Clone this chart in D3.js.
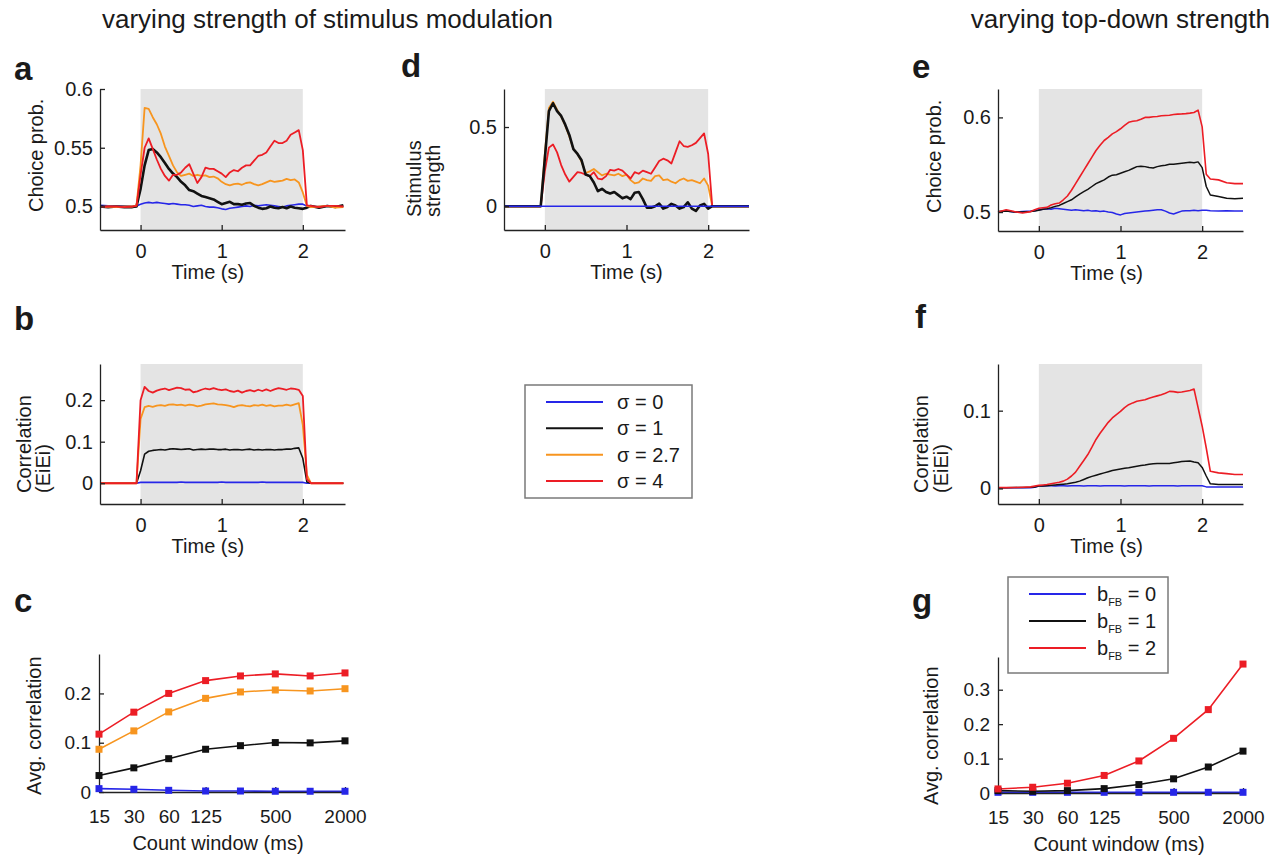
<!DOCTYPE html>
<html>
<head>
<meta charset="utf-8">
<script src="https://cdn.jsdelivr.net/npm/d3@7"></script>
<style>
  body { margin: 0; background: #fff; }
  svg { display: block; }
  text { font-family: "Liberation Sans", Arial, Helvetica, sans-serif; fill: #1a1a1a; }
</style>
</head>
<body>
<svg id="fig" width="1279" height="859"></svg>
<script>
// ---------- data ----------
// sample times (s) shared by all time-course panels
const time = [-0.5,-0.4,-0.3,-0.2,-0.1,-0.05,
  0,0.05,0.1,0.15,0.2,0.25,0.3,0.35,0.4,0.45,0.5,0.55,0.6,0.65,0.7,0.75,0.8,0.85,0.9,0.95,
  1,1.05,1.1,1.15,1.2,1.25,1.3,1.35,1.4,1.45,1.5,1.55,1.6,1.65,1.7,1.75,1.8,1.85,1.9,1.95,2,
  2.05,2.1,2.2,2.3,2.4,2.5];
const timeTicks = [0, 1, 2];

// (a) choice probability, varying stimulus modulation
const aSigma0 = [.501,.5005,.500,.5005,.500,.5005,
  .502,.503,.5035,.503,.5035,.503,.5025,.502,.5025,.502,.5015,.5015,.501,.5,.5005,.501,.5,.4995,.4995,.499,
  .498,.4975,.4985,.499,.4995,.5,.5005,.5,.501,.5005,.501,.5015,.501,.5005,.5,.4995,.5005,.501,.5015,.502,.502,
  .5005,.5,.5,.5005,.5,.5];
const aSigma1 = [.500,.4995,.5,.4995,.4995,.500,
  .515,.535,.548,.549,.546,.542,.537,.532,.528,.525,.521,.518,.514,.513,.511,.509,.508,.507,.506,.504,
  .502,.503,.504,.502,.502,.5015,.5025,.503,.5005,.499,.498,.4985,.500,.499,.4985,.4995,.4985,.500,.499,.4985,.498,
  .499,.5005,.499,.5005,.4995,.501];
const aSigma27 = [.4995,.5,.4995,.5,.5,.501,
  .535,.584,.583,.576,.570,.562,.551,.543,.535,.529,.526,.527,.528,.526,.527,.526,.5265,.525,.5255,.524,
  .521,.519,.518,.519,.5195,.5185,.52,.5205,.519,.518,.519,.5205,.522,.521,.5215,.522,.5235,.5225,.523,.5205,.512,
  .5005,.4995,.5,.5005,.499,.4995];
const aSigma4 = [.4995,.5,.5,.4995,.5,.5005,
  .527,.550,.558,.549,.540,.532,.526,.522,.527,.527,.529,.533,.536,.528,.520,.525,.533,.532,.532,.530,
  .528,.525,.529,.531,.530,.533,.535,.535,.539,.543,.544,.546,.551,.556,.554,.554,.556,.561,.563,.565,.548,
  .501,.5005,.4995,.5005,.5005,.5];

// (b) EiEi correlation, varying stimulus modulation
const bSigma0 = [0,0,0,0,0,0,
  .002,.002,.002,.002,.002,.002,.002,.002,.002,.002,.003,.002,.002,.002,.002,.002,.002,.002,.002,.002,
  .003,.002,.002,.002,.002,.002,.002,.002,.002,.002,.003,.002,.002,.002,.002,.002,.002,.002,.002,.002,.002,
  0,0,0,0,0,0];
const bSigma1 = [0,0,0,0,0,0,
  .03,.07,.077,.079,.08,.081,.08,.082,.083,.082,.081,.082,.083,.08,.081,.082,.081,.082,.082,.081,
  .081,.082,.08,.081,.081,.08,.081,.082,.08,.081,.08,.081,.081,.08,.081,.081,.082,.082,.084,.085,.06,
  .003,0,0,0,0,0];
const bSigma27 = [0,0,0,0,0,0,
  .155,.183,.186,.184,.187,.188,.186,.189,.19,.188,.189,.187,.189,.188,.185,.187,.19,.191,.192,.19,
  .189,.188,.186,.183,.187,.188,.186,.185,.188,.187,.189,.186,.188,.185,.187,.187,.189,.187,.19,.193,.14,
  .02,0,0,0,0,0];
const bSigma4 = [0,0,0,0,0,0,
  .20,.232,.222,.218,.223,.226,.228,.224,.227,.23,.229,.225,.226,.219,.221,.225,.228,.226,.229,.226,
  .224,.226,.222,.22,.223,.218,.222,.224,.221,.225,.222,.226,.222,.226,.229,.227,.225,.228,.227,.225,.21,
  .01,0,0,0,0,0];

// (d) stimulus strength
const dSigma0 = [0,0,0,0,0,0,
  0,0,0,0,0,0,0,0,0,0,0,0,0,0,0,0,0,0,0,0,
  0,0,0,0,0,0,0,0,0,0,0,0,0,0,0,0,0,0,0,0,0,
  0,0,0,0,0,0];
const dSigma1 = [0,0,0,0,0,0,
  .30,.60,.65,.60,.57,.515,.45,.36,.33,.29,.20,.19,.15,.095,.11,.09,.08,.09,.07,.05,
  .06,.045,.085,.09,.045,-.01,-.01,0,.017,-.015,-.005,.015,.005,-.015,-.005,.025,-.015,-.03,.005,.015,-.015,
  0,0,0,0,0,0];
const dSigma27 = [0,0,0,0,0,0,
  .33,.62,.66,.61,.565,.51,.44,.36,.33,.28,.21,.22,.235,.215,.195,.205,.20,.195,.205,.19,
  .20,.165,.145,.15,.175,.165,.16,.19,.195,.165,.17,.155,.145,.165,.175,.16,.165,.155,.145,.175,.13,
  0,0,0,0,0,0];
const dSigma4 = [0,0,0,0,0,0,
  .22,.37,.39,.34,.26,.20,.155,.185,.215,.21,.20,.19,.215,.175,.17,.19,.23,.225,.235,.225,
  .20,.175,.215,.205,.225,.215,.205,.245,.285,.30,.29,.27,.34,.41,.38,.375,.385,.40,.43,.46,.33,
  0,0,0,0,0,0];

// (e) choice probability, varying top-down strength
const eFB0 = [.5,.501,.5,.5005,.501,.5015,
  .5025,.503,.5035,.503,.504,.5035,.503,.5025,.502,.5025,.502,.5015,.502,.501,.5015,.5005,.501,.5,.4995,.498,
  .497,.4985,.499,.4995,.5,.5005,.501,.5015,.502,.5025,.5025,.501,.499,.498,.4995,.501,.5015,.5015,.502,.5015,.502,
  .502,.5015,.501,.5015,.501,.501];
const eFB1 = [.5005,.501,.5,.5,.5005,.501,
  .502,.503,.5035,.5045,.506,.507,.509,.511,.513,.516,.519,.5215,.524,.527,.530,.532,.534,.537,.539,.5395,
  .541,.5425,.544,.546,.548,.5485,.548,.547,.5465,.548,.549,.5495,.5505,.5505,.551,.5515,.552,.5525,.552,.553,.547,
  .527,.518,.5165,.5146,.514,.5146];
const eFB2 = [.5,.5024,.5005,.499,.5005,.5025,
  .504,.5045,.505,.5075,.5087,.5095,.513,.517,.523,.53,.537,.544,.551,.558,.565,.5705,.5756,.579,.5826,.585,
  .588,.5915,.5948,.596,.5965,.598,.6,.6,.6007,.601,.6017,.602,.6023,.603,.6035,.6037,.604,.6045,.6052,.6077,.59,
  .54,.535,.534,.531,.530,.530];

// (f) EiEi correlation, varying top-down strength
const fFB0 = [.001,.001,.001,.001,.001,.0015,
  .003,.003,.0035,.0035,.003,.0035,.0035,.003,.0035,.0035,.0035,.003,.0035,.0035,.0035,.003,.0035,.0035,.0035,.0035,
  .0035,.003,.0035,.0035,.0035,.0035,.0035,.003,.0035,.0035,.0035,.0035,.0035,.0035,.003,.0035,.0035,.0035,.0035,.0035,.0035,
  .002,.002,.002,.002,.002,.002];
const fFB1 = [.001,.001,.0012,.0012,.0015,.002,
  .003,.0033,.0036,.004,.0045,.005,.0055,.006,.007,.008,.0094,.0115,.0137,.0155,.017,.0185,.02,.0215,.023,.024,
  .025,.026,.0265,.0275,.0286,.0295,.03,.031,.0316,.032,.032,.032,.0322,.033,.0338,.0345,.035,.0352,.034,.033,.027,
  .016,.006,.005,.005,.005,.005];
const fFB2 = [.001,.001,.0012,.0015,.002,.003,
  .004,.0045,.005,.006,.007,.008,.0094,.012,.016,.021,.0286,.036,.0436,.053,.063,.071,.078,.085,.0906,.095,
  .099,.104,.1077,.110,.112,.113,.114,.116,.1175,.119,.1205,.1225,.1248,.1245,.1235,.124,.125,.126,.1278,.104,.08,
  .052,.022,.02,.019,.018,.018];

// (c, g) average correlation vs count window
const countWindows = [15, 30, 60, 125, 250, 500, 1000, 2000];
const countTicks = [15, 30, 60, 125, 500, 2000];
const cSigma0 = [.0068, .0055, .0034, .002, .002, .0015, .0015, .0015];
const cSigma1 = [.0334, .049, .0676, .0867, .094, .1003, .0997, .1038];
const cSigma27 = [.0867, .124, .1625, .19, .203, .207, .205, .2096];
const cSigma4 = [.1174, .162, .2, .226, .2355, .2396, .2355, .2416];
const gFB0 = [.002, .002, .002, .002, .002, .002, .002, .002];
const gFB1 = [.0069, .0049, .0069, .0127, .0245, .0412, .0755, .1216];
const gFB2 = [.0118, .0167, .0284, .051, .0931, .1588, .2422, .3745];

// legend entries
const sigmaLabels = ["σ = 0", "σ = 1", "σ = 2.7", "σ = 4"];
const fbLabels = ["0", "1", "2"];

// ---------- styles ----------
const BLUE = "#2626e8", BLACK = "#111111", ORANGE = "#f7951f", RED = "#ec1d25";
const SHADE = "#e4e4e4", AXIS = "#222";
const TICK_FS = 20, LABEL_FS = 20;

const svg = d3.select("#fig");

function styleAxis(g, fs) {
  g.select(".domain").attr("stroke", AXIS).attr("stroke-width", 1.3);
  g.selectAll(".tick line").attr("stroke", AXIS).attr("stroke-width", 1.3);
  g.selectAll(".tick text").attr("font-size", fs).attr("fill", "#1a1a1a")
    .attr("font-family", '"Liberation Sans", Arial, sans-serif');
}

function yLabel(lines, baselines, yStart) {
  lines.forEach((t, i) => {
    svg.append("text")
      .attr("transform", `translate(${baselines[i]},${yStart}) rotate(-90)`)
      .attr("text-anchor", "start")
      .attr("font-size", LABEL_FS)
      .text(t);
  });
}

function panelLetter(ch, x, y) {
  svg.append("text").attr("x", x).attr("y", y)
    .attr("font-size", 33).attr("font-weight", "bold").text(ch);
}

function timePanel(cfg) {
  const x = d3.scaleLinear().domain([-0.5, cfg.xmax]).range(cfg.xr);
  const y = d3.scaleLinear().domain(cfg.ydom).range(cfg.yr);
  const g = svg.append("g");
  g.append("rect")
    .attr("x", x(0)).attr("y", cfg.yr[1])
    .attr("width", x(2) - x(0)).attr("height", cfg.yr[0] - cfg.yr[1])
    .attr("fill", SHADE);
  const line = d3.line().x((d, i) => x(time[i])).y(d => y(d));
  cfg.series.forEach(s => {
    g.append("path").datum(s.values)
      .attr("d", line).attr("fill", "none")
      .attr("stroke", s.color).attr("stroke-width", s.width)
      .attr("stroke-linejoin", "round");
  });
  const ax = g.append("g").attr("transform", `translate(0,${cfg.yr[0]})`)
    .call(d3.axisBottom(x).tickValues(timeTicks).tickSizeInner(-5).tickSizeOuter(0)
      .tickPadding(14).tickFormat(d3.format("d")));
  styleAxis(ax, TICK_FS);
  const ay = g.append("g").attr("transform", `translate(${cfg.xr[0]},0)`)
    .call(d3.axisLeft(y).tickValues(cfg.yticks).tickSizeInner(-5).tickSizeOuter(0)
      .tickPadding(7).tickFormat(d => String(d)));
  styleAxis(ay, TICK_FS);
  g.append("text").attr("x", x(cfg.xlabelAt)).attr("y", cfg.yr[0] + 49)
    .attr("text-anchor", "middle").attr("font-size", LABEL_FS).text("Time (s)");
}

function windowPanel(cfg) {
  const x = d3.scaleLog().domain([15, 2000]).range(cfg.xr);
  const y = d3.scaleLinear().domain(cfg.ydom).range(cfg.yr);
  const g = svg.append("g");
  const line = d3.line().x((d, i) => x(countWindows[i])).y(d => y(d));
  cfg.series.forEach(s => {
    g.append("path").datum(s.values).attr("d", line).attr("fill", "none")
      .attr("stroke", s.color).attr("stroke-width", 1.6);
  });
  const ax = g.append("g").attr("transform", `translate(0,${cfg.yr[0]})`)
    .call(d3.axisBottom(x).tickValues(countTicks).tickSizeInner(-5).tickSizeOuter(0)
      .tickPadding(18).tickFormat(d => String(d)));
  styleAxis(ax, 19);
  const ay = g.append("g").attr("transform", `translate(${cfg.xr[0]},0)`)
    .call(d3.axisLeft(y).tickValues(cfg.yticks).tickSizeInner(-5).tickSizeOuter(0)
      .tickPadding(8).tickFormat(d => String(d)));
  styleAxis(ay, 19);
  const m = 7;
  cfg.series.forEach(s => {
    g.append("g").selectAll("rect").data(s.values).join("rect")
      .attr("x", (d, i) => x(countWindows[i]) - m / 2)
      .attr("y", d => y(d) - m / 2)
      .attr("width", m).attr("height", m).attr("fill", s.color);
  });
  g.append("text").attr("x", cfg.xlabelX).attr("y", cfg.yr[0] + 58)
    .attr("text-anchor", "middle").attr("font-size", LABEL_FS).text("Count window (ms)");
}

// ---------- titles ----------
svg.append("text").attr("x", 102).attr("y", 28).attr("font-size", 26)
  .text("varying strength of stimulus modulation");
svg.append("text").attr("x", 1270).attr("y", 28).attr("font-size", 26)
  .attr("text-anchor", "end").text("varying top-down strength");

// ---------- panel a ----------
timePanel({
  xr: [100, 345], xmax: 2.52, yr: [230, 89], ydom: [0.48, 0.6], yticks: [0.5, 0.55, 0.6],
  xlabelAt: 0.83,
  series: [
    { values: aSigma0, color: BLUE, width: 1.6 },
    { values: aSigma1, color: BLACK, width: 2.6 },
    { values: aSigma27, color: ORANGE, width: 1.8 },
    { values: aSigma4, color: RED, width: 1.8 }
  ]
});
yLabel(["Choice prob."], [43], 212);
panelLetter("a", 14, 80);

// ---------- panel b ----------
timePanel({
  xr: [100, 345], xmax: 2.52, yr: [504, 364], ydom: [-0.05, 0.287], yticks: [0, 0.1, 0.2],
  xlabelAt: 0.83,
  series: [
    { values: bSigma0, color: BLUE, width: 1.6 },
    { values: bSigma1, color: BLACK, width: 1.6 },
    { values: bSigma27, color: ORANGE, width: 1.8 },
    { values: bSigma4, color: RED, width: 1.8 }
  ]
});
yLabel(["Correlation", "(EiEi)"], [31, 50], 493);
panelLetter("b", 14, 330);

// ---------- panel c ----------
windowPanel({
  xr: [99, 345], yr: [792, 654], ydom: [0, 0.28], yticks: [0, 0.1, 0.2], xlabelX: 218,
  series: [
    { values: cSigma0, color: BLUE },
    { values: cSigma1, color: BLACK },
    { values: cSigma27, color: ORANGE },
    { values: cSigma4, color: RED }
  ]
});
yLabel(["Avg. correlation"], [41], 795);
panelLetter("c", 14, 612);

// ---------- panel d ----------
timePanel({
  xr: [504, 749], xmax: 2.5, yr: [230, 89], ydom: [-0.15, 0.74], yticks: [0, 0.5],
  xlabelAt: 1.0,
  series: [
    { values: dSigma27, color: ORANGE, width: 1.8 },
    { values: dSigma4, color: RED, width: 1.8 },
    { values: dSigma1, color: BLACK, width: 2.6 },
    { values: dSigma0, color: BLUE, width: 1.6 }
  ]
});
yLabel(["Stimulus", "strength"], [421, 440], 217);
panelLetter("d", 401, 77);

// ---------- legend (sigma) ----------
(function () {
  const colors = [BLUE, BLACK, ORANGE, RED];
  const rows = d3.scalePoint().domain(d3.range(sigmaLabels.length)).range([402, 481]);
  const g = svg.append("g");
  g.append("rect").attr("x", 525).attr("y", 385).attr("width", 167).attr("height", 113)
    .attr("fill", "#fff").attr("stroke", "#7a7a7a").attr("stroke-width", 1.5);
  sigmaLabels.forEach((t, i) => {
    g.append("line").attr("x1", 546).attr("x2", 603).attr("y1", rows(i)).attr("y2", rows(i))
      .attr("stroke", colors[i]).attr("stroke-width", 2);
    g.append("text").attr("x", 617).attr("y", rows(i)).attr("dy", "0.35em")
      .attr("font-size", 20).text(t);
  });
})();

// ---------- panel e ----------
timePanel({
  xr: [998, 1243], xmax: 2.5, yr: [231, 89], ydom: [0.48, 0.63], yticks: [0.5, 0.6],
  xlabelAt: 0.83,
  series: [
    { values: eFB0, color: BLUE, width: 1.5 },
    { values: eFB1, color: BLACK, width: 1.5 },
    { values: eFB2, color: RED, width: 1.6 }
  ]
});
yLabel(["Choice prob."], [941], 213);
panelLetter("e", 912, 78);

// ---------- panel f ----------
timePanel({
  xr: [998, 1243], xmax: 2.5, yr: [504, 364], ydom: [-0.02, 0.16], yticks: [0, 0.1],
  xlabelAt: 0.83,
  series: [
    { values: fFB0, color: BLUE, width: 1.5 },
    { values: fFB1, color: BLACK, width: 1.5 },
    { values: fFB2, color: RED, width: 1.6 }
  ]
});
yLabel(["Correlation", "(EiEi)"], [928, 948], 493);
panelLetter("f", 915, 328);

// ---------- panel g ----------
windowPanel({
  xr: [998, 1243], yr: [793, 657], ydom: [0, 0.395], yticks: [0, 0.1, 0.2, 0.3], xlabelX: 1119,
  series: [
    { values: gFB0, color: BLUE },
    { values: gFB1, color: BLACK },
    { values: gFB2, color: RED }
  ]
});
yLabel(["Avg. correlation"], [938], 805);
panelLetter("g", 912, 612);

// ---------- legend (top-down strength) ----------
(function () {
  const colors = [BLUE, BLACK, RED];
  const rows = d3.scalePoint().domain(d3.range(fbLabels.length)).range([594, 648]);
  const g = svg.append("g");
  g.append("rect").attr("x", 1008).attr("y", 577).attr("width", 160).attr("height", 96)
    .attr("fill", "#fff").attr("stroke", "#7a7a7a").attr("stroke-width", 1.5);
  fbLabels.forEach((t, i) => {
    g.append("line").attr("x1", 1029).attr("x2", 1086).attr("y1", rows(i)).attr("y2", rows(i))
      .attr("stroke", colors[i]).attr("stroke-width", 2);
    const tx = g.append("text").attr("x", 1097).attr("y", rows(i)).attr("dy", "0.35em")
      .attr("font-size", 20);
    tx.append("tspan").text("b");
    tx.append("tspan").attr("font-size", 11).attr("dy", 5).text("FB");
    tx.append("tspan").attr("dy", -5).text(" = " + t);
  });
})();
</script>
</body>
</html>
